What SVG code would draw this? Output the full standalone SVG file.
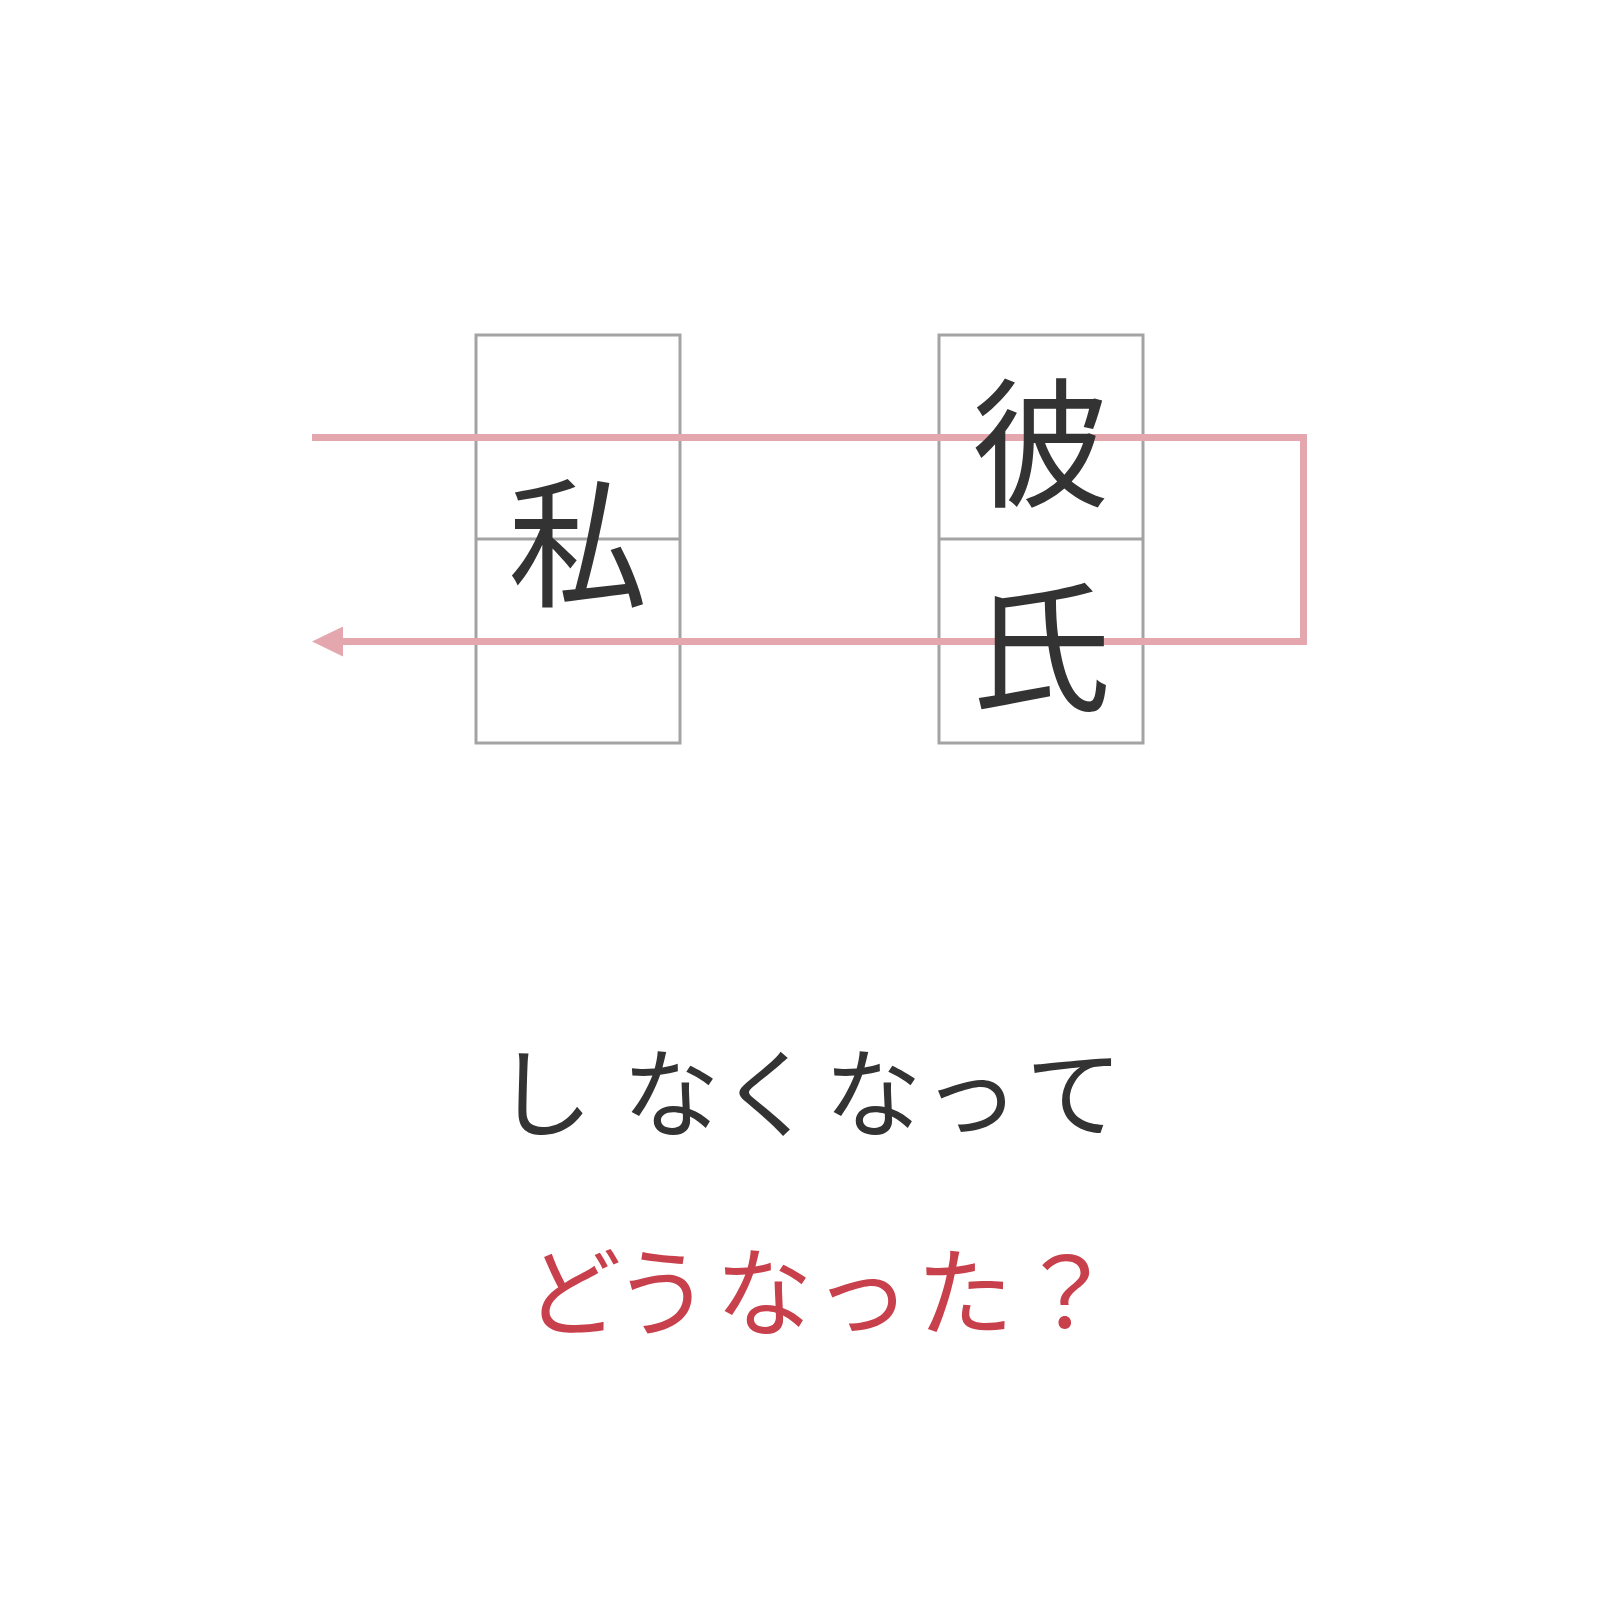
<svg xmlns="http://www.w3.org/2000/svg" width="1620" height="1620" viewBox="0 0 1620 1620">
  <style>
    .frame { fill: none; stroke: #a3a3a3; stroke-width: 3; }
    .link { fill: none; stroke: #e4a7ad; stroke-width: 7; }
    .kanji { font-family: "Noto Sans CJK JP", sans-serif; font-size: 140px; fill: #333333; text-anchor: middle; dominant-baseline: central; }
    .line1 { font-family: "Noto Sans CJK JP", sans-serif; font-size: 97px; fill: #333333; text-anchor: middle; dominant-baseline: central; }
    .line2 { font-family: "Noto Sans CJK JP", sans-serif; font-size: 97px; fill: #c8404c; text-anchor: middle; dominant-baseline: central; }
  </style>
  <defs>
    <marker id="arrow" viewBox="0 0 31 30" refX="0" refY="15" markerWidth="31" markerHeight="30" markerUnits="userSpaceOnUse" orient="auto">
      <polygon points="0,0 31,15 0,30" fill="#e4a7ad"/>
    </marker>
  </defs>
  <rect width="1620" height="1620" fill="#ffffff"/>

  <g id="box-watashi">
    <rect class="frame" x="476" y="335" width="204" height="408"/>
    <line class="frame" x1="476" y1="539" x2="680" y2="539"/>
  </g>
  <g id="box-kareshi">
    <rect class="frame" x="939" y="335" width="204" height="408"/>
    <line class="frame" x1="939" y1="539" x2="1143" y2="539"/>
  </g>

  <g id="connectors">
    <path class="link" d="M312,437.5 H1303.5 V641.5 H343" marker-end="url(#arrow)"/>
  </g>

  <g id="label-watashi">
    <text class="kanji" x="578" y="535">私</text>
  </g>
  <g id="label-kareshi">
    <text class="kanji" x="1041" y="435">彼</text>
    <text class="kanji" x="1041" y="639">氏</text>
  </g>

  <g id="caption-1">
    <text class="line1" x="544 608 671 768 873 971 1074" y="1086">し なくなって</text>
  </g>
  <g id="caption-2">
    <text class="line2" x="573 662 764 862 965 1066" y="1285">どうなった？</text>
  </g>
</svg>
